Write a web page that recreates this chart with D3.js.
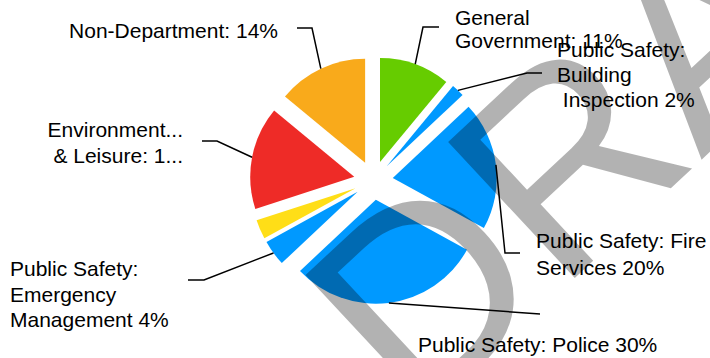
<!DOCTYPE html>
<html>
<head>
<meta charset="utf-8">
<script src="https://cdn.jsdelivr.net/npm/d3@7"></script>
<style>
  html, body { margin: 0; padding: 0; background: #fff; }
  svg { display: block; }
  .lbl { font-family: "Liberation Sans", Arial, sans-serif; font-size: 21px; fill: #000; white-space: pre; }
</style>
</head>
<body>
<div id="chart"></div>
<script>
// data (percent of total)
const categories = [
  'General Government',
  'Public Safety: Building Inspection',
  'Public Safety: Fire Services',
  'Public Safety: Police',
  'Public Safety: Emergency Management',
  'Other',
  'Environment & Leisure',
  'Non-Department'
];
const values = [11, 2, 20, 30, 4, 3, 16, 14];
const colors = ['#66cc00', '#0099ff', '#0099ff', '#0099ff', '#0099ff', '#ffde17', '#ee2b27', '#f9aa1b'];
const labelLines = [
  ['General', 'Government: 11%'],
  ['Public Safety:', 'Building', ' Inspection 2%'],
  ['Public Safety: Fire', 'Services 20%'],
  ['Public Safety: Police 30%'],
  ['Public Safety:', 'Emergency', 'Management 4%'],
  null,
  ['Environment...', '& Leisure: 1...'],
  ['Non-Department: 14%']
];

// label placement (elbow, end of leader, text anchor)
const labelLayout = [
  { elbow: [423, 27], end: [439, 27], tx: 455, ty: 25, anchor: 'start', lh: 23 },
  { elbow: [527, 73], end: [542, 73], tx: 557, ty: 57, anchor: 'start', lh: 25 },
  { elbow: [505, 253], end: [520, 253], tx: 536, ty: 248, anchor: 'start', lh: 27 },
  { elbow: [540, 314], end: [540, 314], tx: 418, ty: 352, anchor: 'start', lh: 25 },
  { elbow: [204, 280], end: [188, 280], tx: 10, ty: 276, anchor: 'start', lh: 25.5 },
  null,
  { elbow: [217, 141], end: [202, 141], tx: 183, ty: 137, anchor: 'end', lh: 26 },
  { elbow: [312, 28], end: [297, 28], tx: 278, ty: 38, anchor: 'end', lh: 25 }
];

const width = 710, height = 358;
const cx = 373.4, cy = 180.4;
const radius = 104, explode = 19.5;

const svg = d3.select('#chart').append('svg')
  .attr('width', width)
  .attr('height', height);

const pie = d3.pie().sort(null).value(d => d.v);
const arcs = pie(values.map((v, i) => ({ v: v, i: i })));
const arc = d3.arc().innerRadius(0).outerRadius(radius);

const g = svg.append('g').attr('transform', 'translate(' + cx + ',' + cy + ')');

const mid = d => (d.startAngle + d.endAngle) / 2;

// slices, each pushed out along its bisector
g.selectAll('.slice').data(arcs).join('path')
  .attr('class', 'slice')
  .attr('fill', d => colors[d.data.i])
  .attr('transform', d => {
    const a = mid(d);
    return 'translate(' + (explode * Math.sin(a)) + ',' + (-explode * Math.cos(a)) + ')';
  })
  .attr('d', arc);

// leader lines
const labelled = arcs.filter(d => labelLayout[d.data.i]);
svg.selectAll('.leader').data(labelled).join('polyline')
  .attr('class', 'leader')
  .attr('fill', 'none')
  .attr('stroke', '#000')
  .attr('stroke-width', 1.5)
  .attr('points', d => {
    const a = mid(d), r = radius + explode;
    const L = labelLayout[d.data.i];
    const p0 = [cx + r * Math.sin(a), cy - r * Math.cos(a)];
    return [p0, L.elbow, L.end].map(p => p.join(',')).join(' ');
  });

// labels
const lbl = svg.selectAll('.lbl').data(labelled).join('text')
  .attr('class', 'lbl')
  .attr('text-anchor', d => labelLayout[d.data.i].anchor);
lbl.selectAll('tspan').data(d => labelLines[d.data.i].map((t, k) => ({ t: t, k: k, L: labelLayout[d.data.i] })))
  .join('tspan')
  .attr('x', d => d.L.tx)
  .attr('y', d => d.L.ty + d.k * d.L.lh)
  .text(d => d.t);

// watermark
svg.append('text')
  .attr('transform', 'translate(416,426) rotate(-43)')
  .attr('font-family', '"Liberation Sans", Arial, sans-serif')
  .attr('font-size', 270)
  .attr('fill', 'rgba(0,0,0,0.3)')
  .text('DRAFT');
</script>
</body>
</html>
